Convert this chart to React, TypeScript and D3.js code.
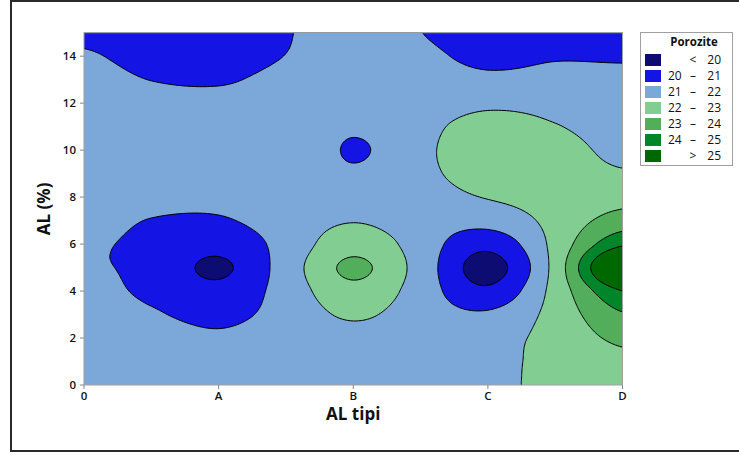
import React from 'react';
import * as d3 from 'd3';

// ---- Data ----
const xTickValues = [0, 1, 2, 3, 4];
const xTickLabels = ['0', 'A', 'B', 'C', 'D'];
const yTickValues = [0, 2, 4, 6, 8, 10, 12, 14];

// grid coordinates of the porosity samples
const gridX = [0, 0.5, 1, 1.5, 2, 2.5, 3, 3.5, 4];
const gridY = [0, 1, 2, 3, 4, 5, 6, 7, 8, 9, 10, 11, 12, 13, 14, 15];

// porosity values, one row per AL (%) value (gridY), columns follow gridX
const row00 = [21.5, 21.5, 21.5, 21.5, 21.5, 21.5, 21.7, 22.3, 22.45];
const row01 = [21.5, 21.5, 21.45, 21.5, 21.5, 21.5, 21.65, 22.35, 22.75];
const row02 = [21.5, 21.4, 21.15, 21.45, 21.65, 21.5, 21.6, 22.35, 23.2];
const row03 = [21.4, 21.1, 20.75, 21.35, 22.15, 21.5, 21.15, 22.35, 23.9];
const row04 = [21.22, 20.85, 20.3, 21.4, 22.7, 21.55, 20.2, 22.35, 25.0];
const row05 = [21.06, 20.8, 19.82, 21.45, 23.2, 21.6, 19.6, 22.35, 27.0];
const row06 = [21.1, 20.82, 20.35, 21.35, 22.6, 21.55, 20.3, 22.3, 24.85];
const row07 = [21.3, 20.97, 20.9, 21.45, 21.95, 21.5, 21.4, 22.3, 23.45];
const row08 = [21.5, 21.3, 21.25, 21.5, 21.55, 21.6, 22.05, 22.35, 22.65];
const row09 = [21.5, 21.45, 21.45, 21.7, 21.15, 21.75, 22.45, 22.4, 22.1];
const row10 = [21.5, 21.5, 21.6, 21.95, 20.9, 21.8, 22.5, 22.35, 21.75];
const row11 = [21.5, 21.45, 21.45, 21.7, 21.15, 21.7, 22.4, 22.05, 21.6];
const row12 = [21.5, 21.35, 21.3, 21.45, 21.5, 21.5, 21.8, 21.7, 21.55];
const row13 = [21.45, 20.98, 20.88, 21.3, 21.5, 21.5, 21.25, 21.35, 21.35];
const row14 = [21.15, 20.55, 20.45, 21.02, 21.5, 21.3, 20.65, 20.9, 20.85];
const row15 = [20.7, 20.25, 20.15, 20.92, 21.5, 21.02, 20.25, 20.5, 20.45];
const porozite = [row00, row01, row02, row03, row04, row05, row06, row07,
  row08, row09, row10, row11, row12, row13, row14, row15];

const thresholds = [20, 21, 22, 23, 24, 25];
const bandColors = ['#0c0c72', '#1414e4', '#7ca7d9', '#82cd91', '#52ae5b', '#00852a', '#006800'];
const legendLow = ['', '20', '21', '22', '23', '24', ''];
const legendMid = ['<', '–', '–', '–', '–', '–', '>'];
const legendHigh = ['20', '21', '22', '23', '24', '25', '25'];

// ---- layout ----
const W = 739;
const H = 455;
const PL = 84;
const PR = 622.5;
const PT = 32.7;
const PB = 385;

const FONT = "'Open Sans', 'DejaVu Sans', sans-serif";

// Catmull-Rom bicubic sampling of the porosity grid (rendering only)
function cr(p0: number, p1: number, p2: number, p3: number, t: number) {
  return p1 + 0.5 * t * (p2 - p0 + t * (2 * p0 - 5 * p1 + 4 * p2 - p3 + t * (3 * (p1 - p2) + p3 - p0)));
}
function sample(x: number, y: number) {
  const nx = gridX.length;
  const ny = gridY.length;
  const dx = gridX[1] - gridX[0];
  const dy = gridY[1] - gridY[0];
  const u = (x - gridX[0]) / dx;
  const v = (y - gridY[0]) / dy;
  const i = Math.max(0, Math.min(nx - 2, Math.floor(u)));
  const j = Math.max(0, Math.min(ny - 2, Math.floor(v)));
  const tu = u - i;
  const tv = v - j;
  const cx = (k: number) => Math.max(0, Math.min(nx - 1, k));
  const cy = (k: number) => Math.max(0, Math.min(ny - 1, k));
  const rows: number[] = [];
  for (let m = -1; m <= 2; m++) {
    const r = porozite[cy(j + m)];
    rows.push(cr(r[cx(i - 1)], r[cx(i)], r[cx(i + 1)], r[cx(i + 2)], tu));
  }
  return cr(rows[0], rows[1], rows[2], rows[3], tv);
}

export default function App() {
  const xScale = d3.scaleLinear().domain([0, 4]).range([PL, PR]);
  const yScale = d3.scaleLinear().domain([0, 15]).range([PB, PT]);

  const SX = 0.02;
  const SY = 0.05;
  const NX = Math.round(4 / SX) + 1;
  const NY = Math.round(15 / SY) + 1;
  const values = new Array(NX * NY);
  for (let j = 0; j < NY; j++) {
    for (let i = 0; i < NX; i++) {
      values[j * NX + i] = sample(i * SX, j * SY);
    }
  }
  const contours = d3.contours().size([NX, NY]).thresholds(thresholds)(values);
  const proj = d3.geoTransform({
    point(x: number, y: number) {
      // @ts-ignore
      this.stream.point(xScale((x - 0.5) * SX), yScale((y - 0.5) * SY));
    },
  });
  const path = d3.geoPath(proj);

  return (
    <svg width={W} height={H} style={{ position: 'absolute', left: 0, top: 0, background: '#fff' }}>
      <defs>
        <clipPath id="plotClip">
          <rect x={PL} y={PT} width={PR - PL} height={PB - PT} />
        </clipPath>
      </defs>
      <rect x={0} y={0} width={W} height={H} fill="#fff" />
      <rect x={11} y={1} width={740} height={450} fill="none" stroke="#2a2a2a" strokeWidth={2} />

      <g clipPath="url(#plotClip)">
        <rect x={PL} y={PT} width={PR - PL} height={PB - PT} fill={bandColors[0]} />
        {contours.map((c, k) => (
          <path key={'f' + k} d={path(c as any) || ''} fill={bandColors[k + 1]} stroke="none" />
        ))}
        {contours.map((c, k) => (
          <path key={'s' + k} d={path(c as any) || ''} fill="none" stroke="#000" strokeWidth={1} strokeLinejoin="round" />
        ))}
      </g>
      <rect x={PL} y={PT} width={PR - PL} height={PB - PT} fill="none" stroke="#a0a0a0" strokeWidth={1} />

      {/* y axis */}
      {yTickValues.map((v) => (
        <g key={'y' + v}>
          <line x1={PL - 4} x2={PL} y1={yScale(v)} y2={yScale(v)} stroke="#888" />
          <text x={PL - 8} y={yScale(v)} dy="0.36em" textAnchor="end" fontFamily={FONT} fontWeight={600} fontSize={11.5} fill="#111">
            {v}
          </text>
        </g>
      ))}
      {/* x axis */}
      {xTickValues.map((v, i) => (
        <g key={'x' + v}>
          <line x1={xScale(v)} x2={xScale(v)} y1={PB} y2={PB + 4} stroke="#888" />
          <text x={xScale(v)} y={PB + 15} textAnchor="middle" fontFamily={FONT} fontWeight={600} fontSize={11.5} fill="#111">
            {xTickLabels[i]}
          </text>
        </g>
      ))}
      <text x={(PL + PR) / 2} y={420} textAnchor="middle" fontFamily={FONT} fontWeight={700} fontSize={17} fill="#111">
        AL tipi
      </text>
      <text transform={`translate(50, ${(PT + PB) / 2}) rotate(-90)`} textAnchor="middle" fontFamily={FONT} fontWeight={700} fontSize={17} fill="#111">
        AL (%)
      </text>

      {/* legend */}
      <rect x={640.5} y={32.5} width={92} height={133} fill="#fff" stroke="#a0a0a0" />
      <text x={694} y={46} textAnchor="middle" fontFamily={FONT} fontWeight={700} fontSize={11.5} fill="#111">
        Porozite
      </text>
      {bandColors.map((c, k) => {
        const cy = 60 + k * 16;
        return (
          <g key={'l' + k}>
            <rect x={645} y={cy - 6} width={16} height={12} fill={c} />
            <text x={668} y={cy} dy="0.36em" fontFamily={FONT} fontWeight={500} fontSize={12} fill="#111">
              {legendLow[k]}
            </text>
            <text x={693} y={cy} dy="0.36em" textAnchor="middle" fontFamily={FONT} fontWeight={500} fontSize={12} fill="#111">
              {legendMid[k]}
            </text>
            <text x={721} y={cy} dy="0.36em" textAnchor="end" fontFamily={FONT} fontWeight={500} fontSize={12} fill="#111">
              {legendHigh[k]}
            </text>
          </g>
        );
      })}
    </svg>
  );
}
